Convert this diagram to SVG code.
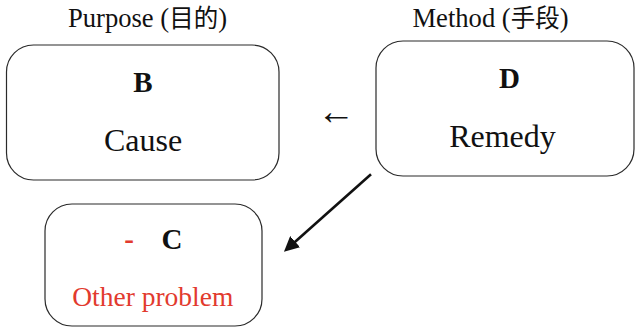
<svg xmlns="http://www.w3.org/2000/svg" width="636" height="329" viewBox="0 0 636 329">
<defs>
<style>
.box{fill:#fff;stroke:#2a2a2a;stroke-width:1.2}
.t{font-family:"Liberation Serif","Noto Sans CJK SC",serif;fill:#111;text-anchor:middle}
.lbl{font-size:26.6px}
.cjk{font-size:24.5px}
.big{font-size:32px}
.bold{font-size:29px;font-weight:bold}
.red{fill:#e23a2e}
</style>
<marker id="ah" viewBox="0 0 10 10" refX="7.3" refY="5" markerWidth="15" markerHeight="15" markerUnits="userSpaceOnUse" orient="auto">
<path d="M0,0 L10,5 L0,10 z" fill="#111"/>
</marker>
</defs>
<text class="t lbl" x="147.5" y="26.7">Purpose (<tspan class="cjk">目的</tspan>)</text>
<text class="t lbl" x="490.5" y="26.7">Method (<tspan class="cjk">手段</tspan>)</text>
<g id="nodeB">
<rect class="box" x="6.5" y="45" width="272.5" height="135" rx="27"/>
<text class="t bold" x="143" y="91.5">B</text>
<text class="t big" x="143" y="150.7">Cause</text>
</g>
<g id="nodeD">
<rect class="box" x="376" y="41" width="258" height="135" rx="27"/>
<text class="t bold" x="509.5" y="88.3">D</text>
<text class="t big" x="502.5" y="146.7">Remedy</text>
</g>
<g id="nodeC">
<rect class="box" x="45" y="204" width="217" height="122" rx="27"/>
<text class="t bold red" x="129" y="249.3">-</text>
<text class="t bold" x="172" y="249.3">C</text>
<text class="t red" x="152.8" y="305.7" style="font-size:27.5px">Other problem</text>
</g>
<g id="connectors">
<text class="t" x="336" y="124" style="font-size:38px">←</text>
<line x1="371" y1="174.3" x2="287" y2="249" stroke="#111" stroke-width="2.6" marker-end="url(#ah)"/>
</g>
</svg>
